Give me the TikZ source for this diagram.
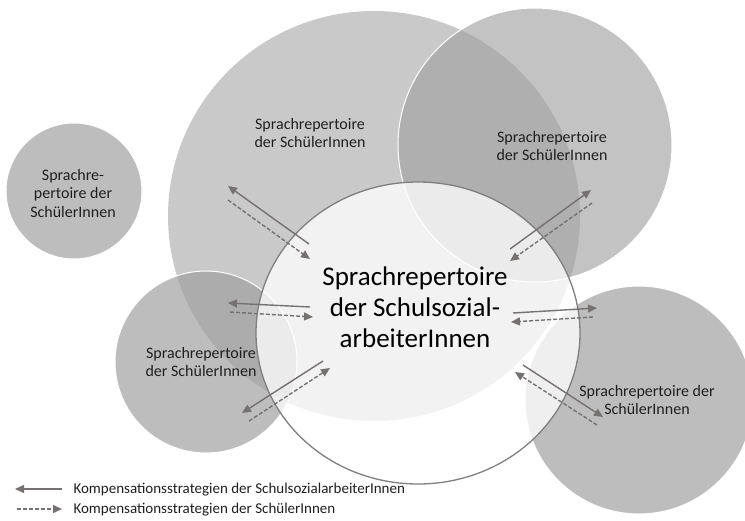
\documentclass[tikz,border=0pt]{standalone}
\usepackage{fontspec}
\setmainfont{Carlito}
\usetikzlibrary{arrows.meta}

\definecolor{repgray}{HTML}{A0A0A0}
\definecolor{biggray}{HTML}{C9C9C9}
\definecolor{pfeil}{HTML}{767171}
\definecolor{rand}{HTML}{7F7F7F}

\begin{document}
\begin{tikzpicture}[x=1pt, y=-1pt,
	every node/.style={font=\fontsize{16}{18.5}\selectfont, align=center, text=black!88},
	kreis/.style={fill=repgray, fill opacity=0.69, draw=white, line width=1pt},
	sa/.style={pfeil, line width=1.4pt, -{Triangle[length=9pt, width=8pt]}},
	sch/.style={sa, dash pattern=on 4pt off 2pt}]
	\useasboundingbox (0,0) rectangle (745,520);
	% Kreise
	\fill[biggray] (374,216) ellipse [x radius=206, y radius=205];
	\path[kreis, fill opacity=0.63] (535,145) circle (137);
	\path[kreis] (206,362) circle (91);
	\path[kreis] (639,400) circle (114);
	\path[kreis] (74,191) circle (68);
	\path[fill=white, fill opacity=0.76, draw=rand, line width=1.3pt] (418,333) ellipse [x radius=162, y radius=151];
	% Beschriftungen
	\node (rep1) at (310,133) {Sprachrepertoire\\der SchülerInnen};
	\node (rep2) at (552,146) {Sprachrepertoire\\der SchülerInnen};
	\node (rep3) at (201,362) {Sprachrepertoire\\der SchülerInnen};
	\node (rep4) at (647,400) {Sprachrepertoire der\\SchülerInnen};
	\node (rep5) at (73,193) {Sprachre-\\pertoire der\\SchülerInnen};
	\node[font=\fontsize{27}{31}\selectfont, text=black] (zentrum) at (415,307) {Sprachrepertoire\\der Schulsozial-\\arbeiterInnen};
	% Pfeilenden
	\coordinate (a1) at (309,244); \coordinate (b1) at (228,186);
	\coordinate (c1) at (228,200); \coordinate (d1) at (310,259);
	\coordinate (a2) at (510,249); \coordinate (b2) at (591,190);
	\coordinate (c2) at (592,203); \coordinate (d2) at (510,261);
	\coordinate (a3) at (310,307); \coordinate (b3) at (228,303);
	\coordinate (c3) at (230,312); \coordinate (d3) at (313,317);
	\coordinate (a4) at (323,361); \coordinate (b4) at (242,413);
	\coordinate (c4) at (249,421); \coordinate (d4) at (330,368);
	\coordinate (a5) at (513,313); \coordinate (b5) at (597,308);
	\coordinate (c5) at (593,317); \coordinate (d5) at (511,322);
	\coordinate (a6) at (523,365); \coordinate (b6) at (603,417);
	\coordinate (c6) at (597,425); \coordinate (d6) at (515,372);
	\draw[sa] (a1) -- (b1);
	\draw[sch] (c1) -- (d1);
	\draw[sa] (a2) -- (b2);
	\draw[sch] (c2) -- (d2);
	\draw[sa] (a3) -- (b3);
	\draw[sch] (c3) -- (d3);
	\draw[sa] (a4) -- (b4);
	\draw[sch] (c4) -- (d4);
	\draw[sa] (a5) -- (b5);
	\draw[sch] (c5) -- (d5);
	\draw[sa] (a6) -- (b6);
	\draw[sch] (c6) -- (d6);
	% Legende
	\coordinate (la) at (62,489); \coordinate (lb) at (15,489);
	\coordinate (lc) at (17,509); \coordinate (ld) at (62,509);
	\draw[sa] (la) -- (lb);
	\draw[sch] (lc) -- (ld);
	\node[anchor=west, font=\fontsize{15}{18}\selectfont] (leg1) at (70,490) {Kompensationsstrategien der SchulsozialarbeiterInnen};
	\node[anchor=west, font=\fontsize{15}{18}\selectfont] (leg2) at (70,510) {Kompensationsstrategien der SchülerInnen};
\end{tikzpicture}
\end{document}
